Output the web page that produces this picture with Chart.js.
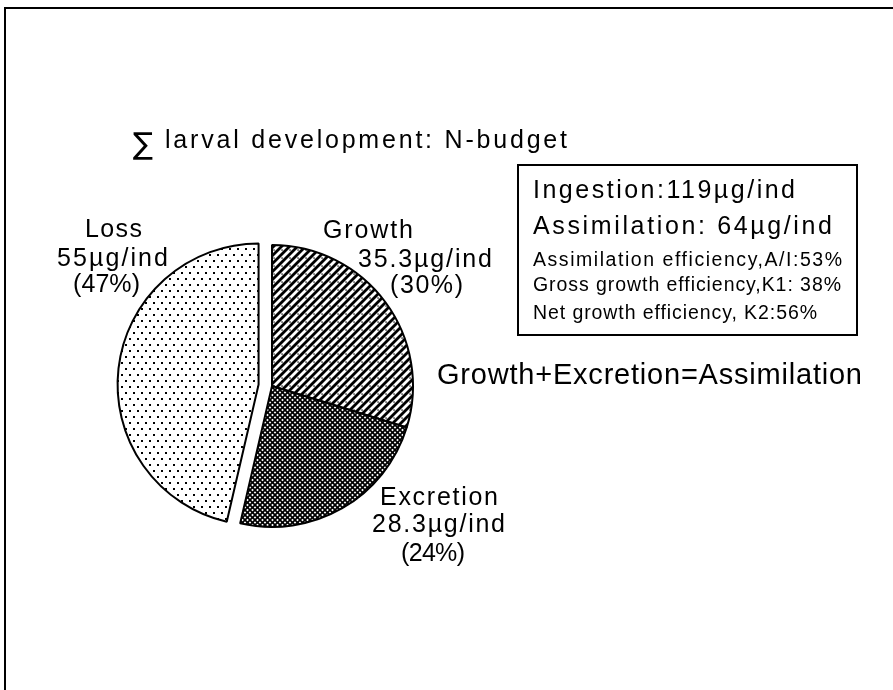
<!DOCTYPE html>
<html>
<head>
<meta charset="utf-8">
<script src="https://cdn.jsdelivr.net/npm/chart.js@4/dist/chart.umd.min.js"></script>
<style>
  html, body { margin: 0; padding: 0; background: #fff; }
  canvas { display: block; }
</style>
</head>
<body>
<canvas id="c" width="893" height="690"></canvas>
<script>
// ---- data ----
const categories = ['Growth', 'Excretion', 'Loss'];
const amounts = [35.3, 28.3, 55];          // µg/ind
const percents = [30, 24, 47];             // % of ingestion
const unit = 'µg/ind';
const title = 'larval development: N-budget';
const boxLines = [
  'Ingestion:119µg/ind',
  'Assimilation: 64µg/ind',
  'Assimilation efficiency,A/I:53%',
  'Gross growth efficiency,K1: 38%',
  'Net growth efficiency, K2:56%'
];
const equation = 'Growth+Excretion=Assimilation';

// ---- layout / style (not data) ----
const explodePx = [0, 0, 13.5];   // distance a slice is pulled out from the centre
const labelLayout = {
  Growth:    [[323, 238, 90], [358, 267, 134], [390, 293, 73]],
  Excretion: [[380, 505, 118], [372, 532, 133], [401, 561, 64]],
  Loss:      [[85, 237, 57], [57, 266, 111], [73, 292, 67]]
};
const boxLayout = [[533, 198, 262, 25], [533, 234, 299, 25], [533, 266, 309, 19.5], [533, 291, 308, 19.5], [533, 319, 284, 19.5]];
const FONT = '"Liberation Sans", "DejaVu Sans", sans-serif';

const canvas = document.getElementById('c');
const ctx = canvas.getContext('2d');

function makePattern(w, h, draw) {
  const c = document.createElement('canvas');
  c.width = w; c.height = h;
  const g = c.getContext('2d');
  g.fillStyle = '#fff'; g.fillRect(0, 0, w, h);
  g.fillStyle = '#000'; g.strokeStyle = '#000';
  draw(g, w, h);
  return ctx.createPattern(c, 'repeat');
}
// Growth: bold "/" hatch with small bridges in the white channels
const patGrowth = makePattern(8, 8, (g, w, h) => {
  g.lineWidth = 2.8;
  for (let k = -1; k <= 1; k++) {
    g.beginPath(); g.moveTo(k * w - 1, h + 1); g.lineTo(k * w + w + 1, -1); g.stroke();
  }
  g.fillRect(1.4, 1.4, 1.3, 1.3);
});
// Excretion: fine cross-hatch
const patExcretion = makePattern(5, 5, (g, w, h) => {
  g.lineWidth = 1.7;
  for (let k = -1; k <= 1; k++) {
    g.beginPath(); g.moveTo(k * w - 1, h + 1); g.lineTo(k * w + w + 1, -1); g.stroke();
    g.beginPath(); g.moveTo(k * w - 1, -1); g.lineTo(k * w + w + 1, h + 1); g.stroke();
  }
});
// Loss: stippled dots
const patLoss = makePattern(8, 12, (g) => {
  g.fillRect(1, 2, 2, 2);
  g.fillRect(5, 8, 2, 2);
});

function drawFit(c, text, x, y, size, width, family) {
  c.font = size + 'px ' + (family || FONT);
  c.letterSpacing = '0px';
  const w = c.measureText(text).width;
  const n = [...text].length;
  const ls = n > 1 ? (width - w) / (n - 1) : 0;
  c.letterSpacing = ls + 'px';
  c.fillText(text, x, y);
  c.letterSpacing = '0px';
}

// pull exploded slices straight out along their mid-angle (keeps radius unchanged)
const explode = {
  id: 'explode',
  afterDatasetsUpdate(chart) {
    const meta = chart.getDatasetMeta(0);
    meta.data.forEach((arc, i) => {
      const d = explodePx[i] || 0;
      if (!d) return;
      const mid = (arc.startAngle + arc.endAngle) / 2;
      arc.x += Math.cos(mid) * d;
      arc.y += Math.sin(mid) * d;
    });
  }
};

const decor = {
  id: 'decor',
  beforeDraw(chart) {
    const c = chart.ctx;
    c.save();
    c.fillStyle = '#fff';
    c.fillRect(0, 0, chart.width, chart.height);
    c.strokeStyle = '#000';
    c.lineWidth = 2;
    c.beginPath();
    c.moveTo(5, 690); c.lineTo(5, 8); c.lineTo(893, 8);
    c.stroke();
    c.restore();
  },
  afterDraw(chart) {
    const c = chart.ctx;
    c.save();
    c.fillStyle = '#000';
    c.textBaseline = 'alphabetic';
    c.textAlign = 'left';
    // title
    c.font = '30px "DejaVu Sans", sans-serif';
    c.fillText('∑', 133, 154);
    drawFit(c, title, 165, 148, 25, 402);
    // slice labels
    categories.forEach((cat, i) => {
      const lines = [cat, amounts[i] + unit, '(' + percents[i] + '%)'];
      labelLayout[cat].forEach(([x, y, w], j) => drawFit(c, lines[j], x, y, 25, w));
    });
    // info box
    c.strokeStyle = '#000';
    c.lineWidth = 2;
    c.strokeRect(518, 165, 339, 170);
    boxLines.forEach((t, i) => {
      const [x, y, w, s] = boxLayout[i];
      drawFit(c, t, x, y, s, w);
    });
    // equation
    drawFit(c, equation, 437, 384, 29, 425);
    c.restore();
  }
};

new Chart(ctx, {
  type: 'pie',
  data: {
    labels: categories,
    datasets: [{
      data: amounts,
      backgroundColor: [patGrowth, patExcretion, patLoss],
      borderColor: '#000',
      borderWidth: 2,
      radius: 141
    }]
  },
  options: {
    responsive: false,
    animation: false,
    devicePixelRatio: 1,
    layout: { padding: { left: 102, right: 451, top: 200, bottom: 118 } },
    plugins: {
      legend: { display: false },
      tooltip: { enabled: false },
      title: { display: false }
    }
  },
  plugins: [explode, decor]
});
</script>
</body>
</html>
